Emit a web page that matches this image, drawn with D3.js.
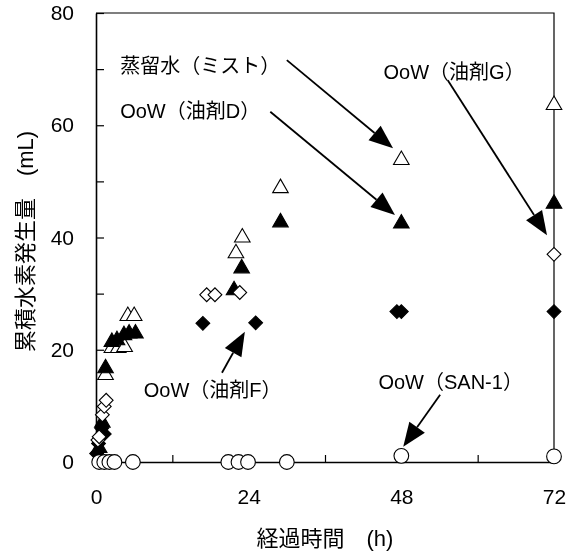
<!DOCTYPE html>
<html>
<head>
<meta charset="utf-8">
<script src="https://d3js.org/d3.v7.min.js"></script>
<style>
    body { margin: 0; background: #fff; }
    svg { display: block; filter: grayscale(1); font-family: "Liberation Sans", Arial, "Noto Sans CJK JP", sans-serif; }
</style>
</head>
<body>
<script>
    // series (hours, mL)
    const mistHours = [1.5, 2.5, 3.5, 4.5, 5, 6, 22, 23, 29, 48, 72];
    const mistValues = [15.5, 20.3, 20.3, 20.5, 26, 26, 37.2, 40, 48.8, 53.8, 63.6];
    const oilDHours = [0.5, 1, 1.5, 2.5, 3.3, 4.4, 5.2, 6.2, 21.7, 22.9, 29, 48, 72];
    const oilDValues = [2.5, 7, 16.7, 21.4, 21.7, 22.6, 22.9, 22.9, 30.6, 34.5, 42.7, 42.5, 46];
    const oilFHours = [0.1, 0.4, 0.9, 1.3, 16.8, 25.1, 47.3, 48, 72];
    const oilFValues = [1.5, 3.3, 6, 5, 24.7, 24.8, 26.8, 26.8, 26.8];
    const oilGHours = [0.3, 0.5, 1.0, 1.3, 1.6, 17.4, 18.7, 22.6, 72];
    const oilGValues = [3.9, 4.5, 8.4, 9.9, 11, 29.8, 29.8, 30.2, 37];
    const san1Hours = [0.5, 1.3, 2.1, 2.9, 5.8, 20.8, 22.4, 23.9, 30, 48, 72];
    const san1Values = [0, 0, 0, 0, 0, 0, 0, 0, 0, 1.1, 1];

    const xTicks = [0, 12, 24, 36, 48, 60, 72];
    const xLabels = [0, 24, 48, 72];
    const yTicks = [0, 10, 20, 30, 40, 50, 60, 70, 80];
    const yLabels = [0, 20, 40, 60, 80];

    const xTitle = "経過時間\u3000(h)";
    const yTitle = "累積水素発生量\u3000(mL)";

    // callouts: label position, arrow start and tip in data units
    const callouts = [
        {text: "蒸留水（ミスト）", lx: 3.8, ly: 70.6, from: [30, 71.6], to: [46.7, 55.9]},
        {text: "OoW（油剤D）", lx: 3.8, ly: 62.5, from: [27.4, 62.4], to: [47, 44]},
        {text: "OoW（油剤G）", lx: 45.2, ly: 69.5, from: [55.3, 68], to: [70.9, 40.4]},
        {text: "OoW（油剤F）", lx: 7.5, ly: 12.8, from: [19.8, 15.9], to: [23.4, 23.2]},
        {text: "OoW（SAN-1）", lx: 44.4, ly: 14.3, from: [54.1, 12], to: [48.3, 2.7]}
    ];

    const width = 579, height = 552;
    const svg = d3.select("body").append("svg").attr("width", width).attr("height", height);

    const x = d3.scaleLinear().domain([0, 72]).range([96, 554]);
    const y = d3.scaleLinear().domain([0, 80]).range([462, 13]);

    // frame
    svg.append("path")
        .attr("d", `M${x(0)},${y(80)}H${x(72)}V${y(0)}`)
        .attr("fill", "none").attr("stroke", "#000").attr("stroke-width", 1.2);

    const xAxis = svg.append("g")
        .attr("transform", `translate(0,${y(0)})`)
        .call(d3.axisBottom(x).tickValues(xTicks).tickSizeInner(-7).tickSizeOuter(0).tickPadding(27)
            .tickFormat(d => xLabels.includes(d) ? d : ""));
    const yAxis = svg.append("g")
        .attr("transform", `translate(${x(0)},0)`)
        .call(d3.axisLeft(y).tickValues(yTicks).tickSizeInner(-8).tickSizeOuter(0).tickPadding(22)
            .tickFormat(d => yLabels.includes(d) ? d : ""));
    [xAxis, yAxis].forEach(a => {
        a.select(".domain").attr("stroke-width", 1.6);
        a.selectAll("line").attr("stroke-width", 1.2);
        a.selectAll("text").attr("font-size", 21).attr("fill", "#000")
            .style("font-family", '"Liberation Sans", Arial, sans-serif');
    });

    svg.append("text")
        .attr("x", (x(0) + x(72)) / 2).attr("y", 546)
        .attr("text-anchor", "middle").attr("font-size", 22).attr("fill", "#000")
        .text(xTitle);
    svg.append("text")
        .attr("transform", `translate(33,${(y(0) + y(80)) / 2 + 4}) rotate(-90)`)
        .attr("text-anchor", "middle").attr("font-size", 22).attr("fill", "#000")
        .text(yTitle);

    // markers
    const tri = d3.symbol().type(d3.symbolTriangle).size(105)();
    const dia = d3.symbol().type(d3.symbolSquare).size(95)();
    const circ = d3.symbol().type(d3.symbolCircle).size(170)();

    function plot(hours, values, path, fill, rot) {
        svg.append("g").selectAll("path")
            .data(hours.map((h, i) => [h, values[i]]))
            .join("path")
            .attr("d", path)
            .attr("transform", d => `translate(${x(d[0])},${y(d[1])})` + (rot ? " rotate(45)" : ""))
            .attr("fill", fill)
            .attr("stroke", "#000")
            .attr("stroke-width", 1.1);
    }
    plot(mistHours, mistValues, tri, "#fff", false);
    plot(oilDHours, oilDValues, tri, "#000", false);
    plot(oilFHours, oilFValues, dia, "#000", true);
    plot(oilGHours, oilGValues, dia, "#fff", true);
    plot(san1Hours, san1Values, circ, "#fff", false);

    // callout labels and arrows
    const ann = svg.append("g");
    callouts.forEach(c => {
        ann.append("text")
            .attr("x", x(c.lx)).attr("y", y(c.ly))
            .attr("dy", "0.36em")
            .attr("font-size", 20)
            .attr("fill", "#000")
            .text(c.text);
        const x0 = x(c.from[0]), y0 = y(c.from[1]), x1 = x(c.to[0]), y1 = y(c.to[1]);
        const a = Math.atan2(y1 - y0, x1 - x0);
        const len = 24, hw = 9.5;
        const bx = x1 - len * Math.cos(a), by = y1 - len * Math.sin(a);
        ann.append("line")
            .attr("x1", x0).attr("y1", y0).attr("x2", bx).attr("y2", by)
            .attr("stroke", "#000").attr("stroke-width", 1.8);
        ann.append("path")
            .attr("d", `M${x1},${y1}L${bx + hw * Math.sin(a)},${by - hw * Math.cos(a)}L${bx - hw * Math.sin(a)},${by + hw * Math.cos(a)}Z`)
            .attr("fill", "#000");
    });
</script>
</body>
</html>
